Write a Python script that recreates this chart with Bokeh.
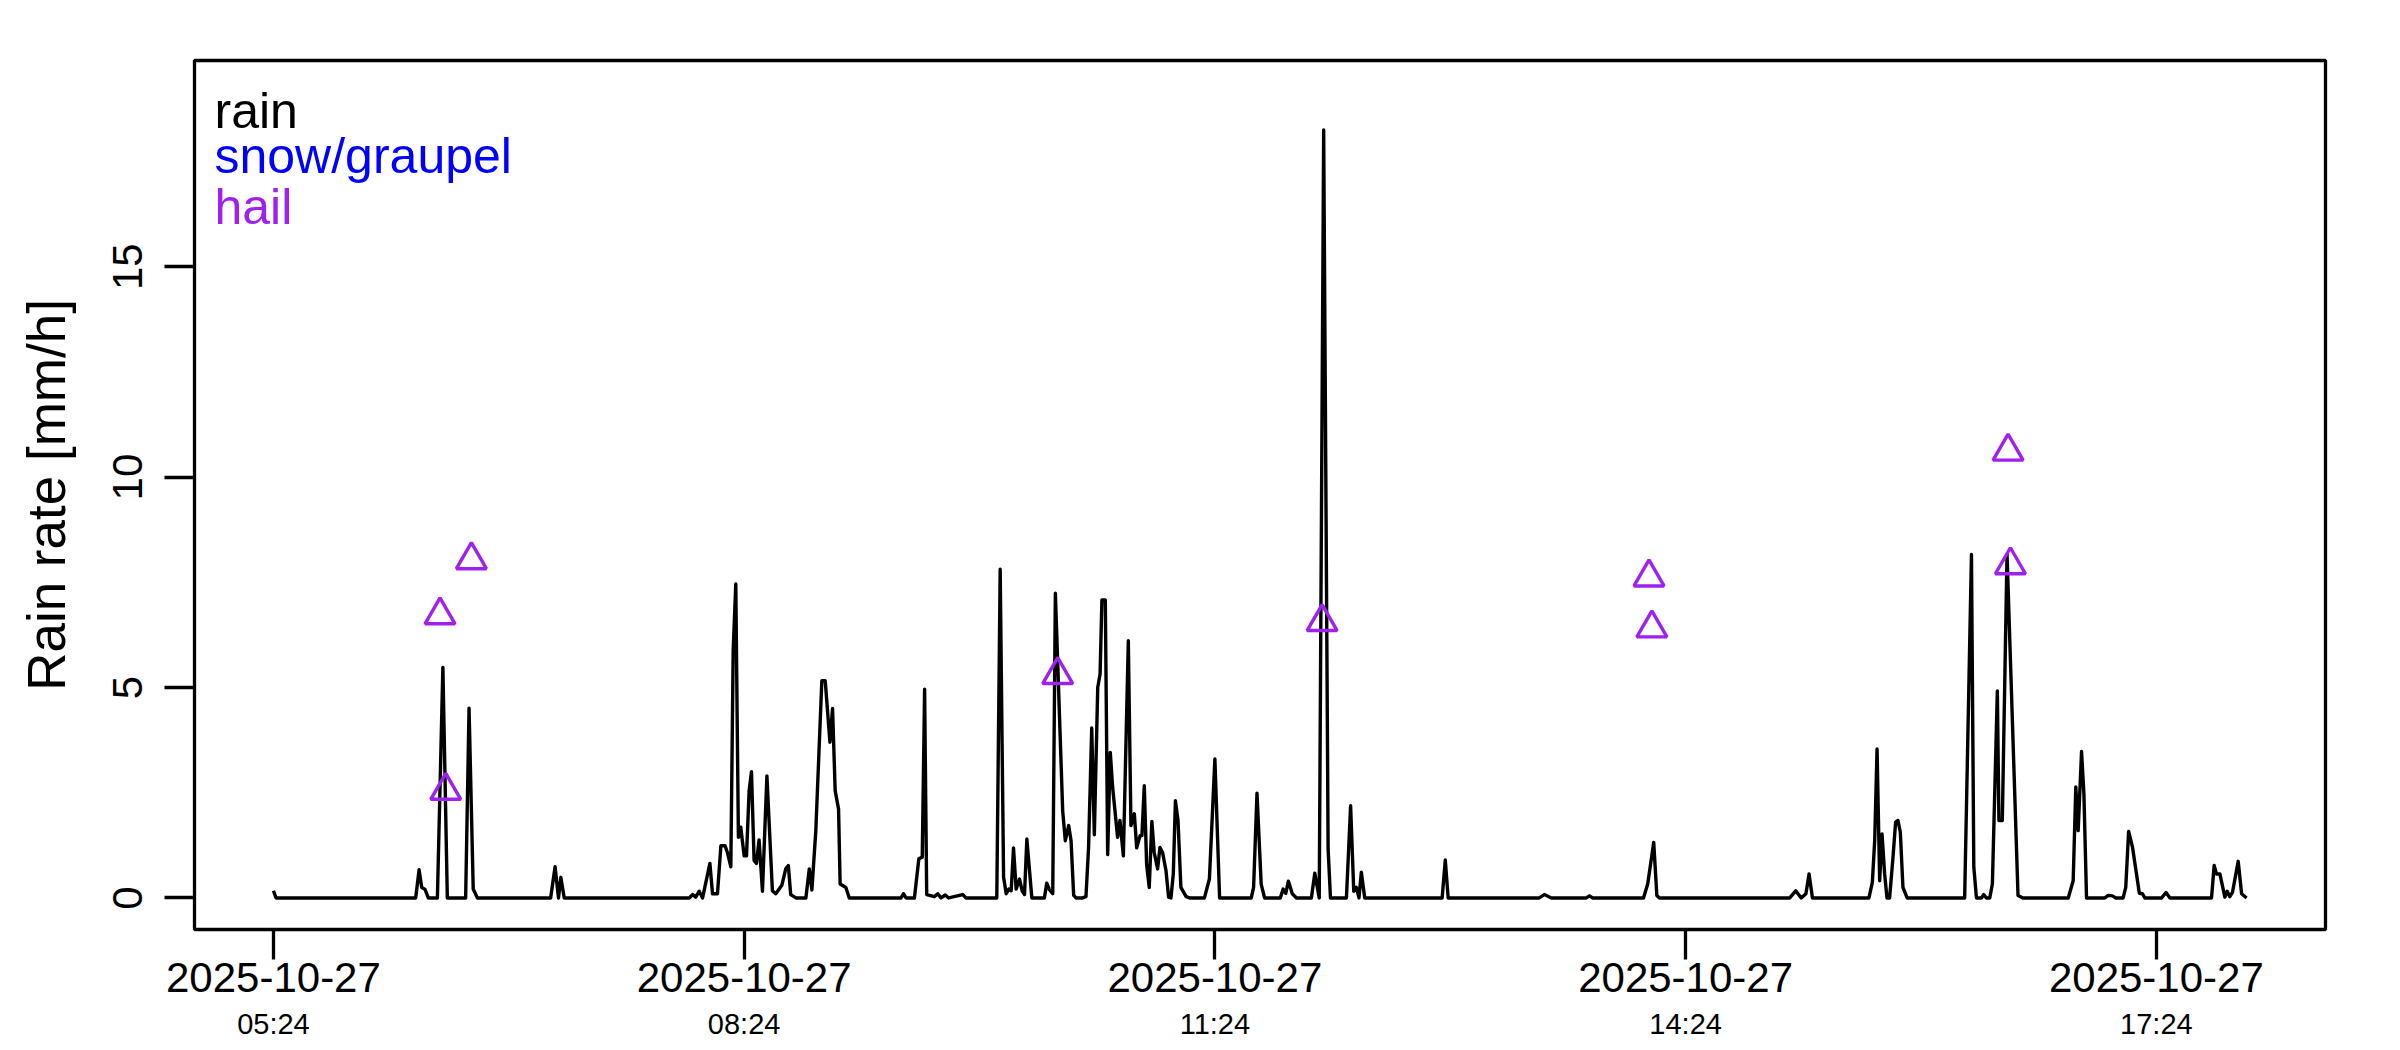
from bokeh.plotting import figure
from bokeh.models import Range1d, FixedTicker, LinearAxis, Label
from bokeh.embed import file_html
from bokeh.resources import INLINE

# Rain rate time series: minutes after 2025-10-27 05:24, rain rate [mm/h]
rain_t = [0, 1.0,
          54.4, 55.7, 56.7, 58.0, 59.2,
          62.7, 64.8, 66.5,
          73.5, 74.8, 76.4, 78.0,
          106.0, 107.7, 109.0, 109.9, 111.2,
          159.0, 160.3, 161.5, 162.8, 164.1, 166.9, 167.9, 169.8, 171.1, 172.7, 173.6, 174.9,
          175.8, 176.8, 177.8, 178.7, 180.0, 180.9, 181.9, 182.8, 183.8, 184.7, 185.7, 187.0,
          188.7, 190.8, 192.1, 194.4, 195.9, 196.9, 197.8, 199.8,
          203.6, 204.9, 205.9, 207.4, 209.7, 211.0, 212.8, 213.8, 214.8, 216.1, 216.7, 218.9, 220.2,
          240.0, 240.9, 241.9, 245.1, 246.8, 248.1, 249.0, 249.8, 252.7, 254.0, 255.3, 256.9, 258.2,
          263.6, 264.8,
          276.6, 277.9, 279.2, 280.2, 281.2, 282.1, 283.0, 284.0, 285.3, 286.3, 287.2, 288.1, 290.0,
          294.8, 295.7, 296.7, 298.0, 299.0, 301.8, 302.8, 304.1, 305.0, 306.0, 306.9,
          309.4, 310.7, 311.7, 312.9, 313.9, 315.2, 316.1, 316.8, 318.1, 319.0, 320.0, 320.9,
          322.8, 323.7, 325.0, 326.9, 327.9, 329.2, 330.1, 331.4, 332.1, 333.0, 333.9, 334.9,
          335.9, 336.8, 338.1, 339.0, 340.0, 341.3, 342.3, 343.2, 344.1, 344.9, 345.9, 347.0,
          349.0, 350.3,
          356.0, 357.9, 360.0, 361.8,
          373.9, 374.8, 376.1, 377.7, 379.0,
          385.0, 386.1, 387.1, 388.1, 389.6, 391.2,
          396.9, 398.2, 399.9, 401.6, 403.3, 404.2,
          410.3, 411.9, 413.1, 414.1, 415.1, 416.0, 417.3,
          446.9, 448.1, 449.2,
          484.0, 486.0, 488.6,
          502.0, 503.2, 504.5,
          523.9, 525.5, 527.8, 529.0, 530.0,
          579.8, 582.1, 584.2, 586.0, 587.2, 588.5,
          610.1, 611.4, 612.3, 613.2, 614.2, 615.1, 616.1, 617.0, 618.0, 619.3, 620.3, 621.2,
          622.1, 623.1, 624.7,
          646.7, 649.3, 650.2, 651.2, 653.1, 654.0, 655.0, 656.3, 657.3, 659.2, 659.8, 661.1,
          662.9, 667.1, 669.0,
          686.3, 688.2, 689.2, 690.1, 691.4, 692.3, 693.3,
          700.3, 701.6, 703.2, 704.5, 707.3, 708.3, 709.4, 710.9, 713.5, 714.7, 715.6,
          722.0, 723.7, 725.2,
          741.1, 742.1, 743.0, 744.3, 746.2, 747.1, 748.1, 749.1, 751.3, 752.6, 754.5]
rain_v = [0.17, 0,
          0, 0.67, 0.25, 0.2, 0,
          0, 5.48, 0,
          0, 4.51, 0.21, 0,
          0, 0.74, 0, 0.49, 0,
          0, 0.08, 0.02, 0.16, 0, 0.82, 0.1, 0.1, 1.24, 1.24, 1.08, 0.74,
          5.87, 7.46, 1.44, 1.68, 1.0, 1.0, 2.55, 3.0, 0.89, 0.82, 1.38, 0.16,
          2.9, 0.17, 0.1, 0.3, 0.69, 0.77, 0.08, 0,
          0, 0.69, 0.19, 1.6, 5.16, 5.16, 3.7, 4.5, 2.55, 2.11, 0.33, 0.25, 0,
          0, 0.1, 0, 0, 0.93, 0.97, 4.96, 0.08, 0.03, 0.1, 0, 0.07, 0,
          0.08, 0,
          0, 7.81, 0.49, 0.1, 0.21, 0.17, 1.19, 0.21, 0.45, 0.17, 0.08, 1.4, 0,
          0, 0.35, 0.2, 0.1, 7.24, 2.07, 1.36, 1.72, 1.36, 0.06, 0,
          0, 0.03, 1.2, 4.04, 1.5, 5.0, 5.32, 7.08, 7.08, 1.03, 3.46, 2.63,
          1.44, 1.84, 1.0, 6.11, 1.72, 2.0, 1.19, 1.48, 1.48, 2.67, 0.79, 0.25,
          1.82, 1.08, 0.69, 1.2, 1.08, 0.65, 0.02, 0, 0.57, 2.31, 1.84, 0.25,
          0.03, 0,
          0, 0.45, 3.3, 0,
          0, 0.25, 2.49, 0.33, 0,
          0, 0.21, 0.11, 0.4, 0.1, 0,
          0, 0.59, 0, 18.25, 1.16, 0,
          0, 2.19, 0.16, 0.25, 0, 0.61, 0,
          0, 0.9, 0,
          0, 0.08, 0,
          0, 0.05, 0,
          0, 0.33, 1.32, 0.06, 0,
          0, 0.17, 0, 0.1, 0.57, 0,
          0, 0.37, 1.36, 3.54, 0.41, 1.52, 0.57, 0, 0, 0.97, 1.8, 1.84,
          1.56, 0.25, 0,
          0, 8.16, 0.73, 0, 0, 0.08, 0, 0, 0.33, 4.92, 1.84, 1.84,
          8.17, 0.06, 0,
          0, 0.41, 2.64, 1.6, 3.48, 2.47, 0,
          0, 0.06, 0.05, 0, 0, 0.25, 1.58, 1.2, 0.11, 0.1, 0,
          0, 0.13, 0,
          0, 0.77, 0.57, 0.57, 0.02, 0.16, 0.03, 0.13, 0.87, 0.1, 0]

# Hail observations: minutes after 05:24, rain rate [mm/h]
hail_t = [63.7, 75.7, 65.9, 299.9, 401.0, 526.0, 527.1, 663.3, 664.2]
hail_v = [6.72, 8.03, 2.55, 5.30, 6.56, 7.62, 6.41, 10.61, 7.91]

tick_minutes = [0, 180, 360, 540, 720]
tick_dates = ["2025-10-27", "2025-10-27", "2025-10-27", "2025-10-27", "2025-10-27"]
tick_times = ["05:24", "08:24", "11:24", "14:24", "17:24"]
y_ticks = [0, 5, 10, 15]
legend_labels = ["rain", "snow/graupel", "hail"]
legend_colors = ["black", "#0000FF", "#A020F0"]

FONT = "Liberation Sans"
W, H = 2400, 1050
FL, FR, FT, FB = 194, 75, 60, 121
FW, FH = W - FL - FR, H - FT - FB

span = max(rain_t) - min(rain_t)
x0 = min(rain_t) - 0.04 * span
x1 = max(rain_t) + 0.04 * span
y0, y1 = -0.75, 19.9

p = figure(width=W, height=H, output_backend="svg", toolbar_location=None,
           x_range=Range1d(x0, x1), y_range=Range1d(y0, y1),
           x_axis_location=None, y_axis_location=None,
           min_border_left=FL, min_border_right=FR,
           min_border_top=FT, min_border_bottom=FB)
p.grid.visible = False
p.outline_line_color = "black"
p.outline_line_width = 3.3
p.background_fill_color = "white"
p.border_fill_color = "white"

ya = LinearAxis(ticker=FixedTicker(ticks=y_ticks), axis_label="Rain rate [mm/h]")
ya.axis_line_color = None
ya.major_tick_out = 30
ya.major_tick_in = 0
ya.major_tick_line_width = 3.3
ya.minor_tick_line_color = None
ya.major_label_orientation = "vertical"
ya.major_label_text_font = FONT
ya.major_label_text_font_size = "42px"
ya.major_label_text_color = "black"
ya.major_label_standoff = 22
ya.axis_label_text_font = FONT
ya.axis_label_text_font_size = "53px"
ya.axis_label_text_font_style = "normal"
ya.axis_label_text_color = "black"
ya.axis_label_standoff = 35
p.add_layout(ya, "left")

xa = LinearAxis(ticker=FixedTicker(ticks=tick_minutes),
                major_label_overrides=dict(zip(tick_minutes, tick_dates)))
xa.axis_line_color = None
xa.major_tick_out = 30
xa.major_tick_in = 0
xa.major_tick_line_width = 3.3
xa.minor_tick_line_color = None
xa.major_label_text_font = FONT
xa.major_label_text_font_size = "42px"
xa.major_label_text_color = "black"
xa.major_label_standoff = 3
p.add_layout(xa, "below")

xt = LinearAxis(ticker=FixedTicker(ticks=tick_minutes),
                major_label_overrides=dict(zip(tick_minutes, tick_times)))
xt.axis_line_color = None
xt.major_tick_line_color = None
xt.minor_tick_line_color = None
xt.major_tick_out = 0
xt.major_tick_in = 0
xt.major_label_text_font = FONT
xt.major_label_text_font_size = "29px"
xt.major_label_text_color = "black"
xt.major_label_standoff = 13
p.add_layout(xt, "below")

p.line(rain_t, rain_v, line_color="black", line_width=3.4, line_join="round")
p.scatter(hail_t, hail_v, marker="triangle", size=30, fill_color=None,
          line_color="#A020F0", line_width=3.4)

ppx = FW / (x1 - x0)
ppy = FH / (y1 - y0)
legend_offsets = [50.7, 95.0, 146.0]
for lab, col, off in zip(legend_labels, legend_colors, legend_offsets):
    p.add_layout(Label(x=x0 + 20 / ppx, y=y1 - off / ppy,
                       text=lab, text_color=col, text_font=FONT,
                       text_font_size="50px", text_baseline="alphabetic",
                       text_align="left"))

open("out.html", "w").write(file_html(p, INLINE))
